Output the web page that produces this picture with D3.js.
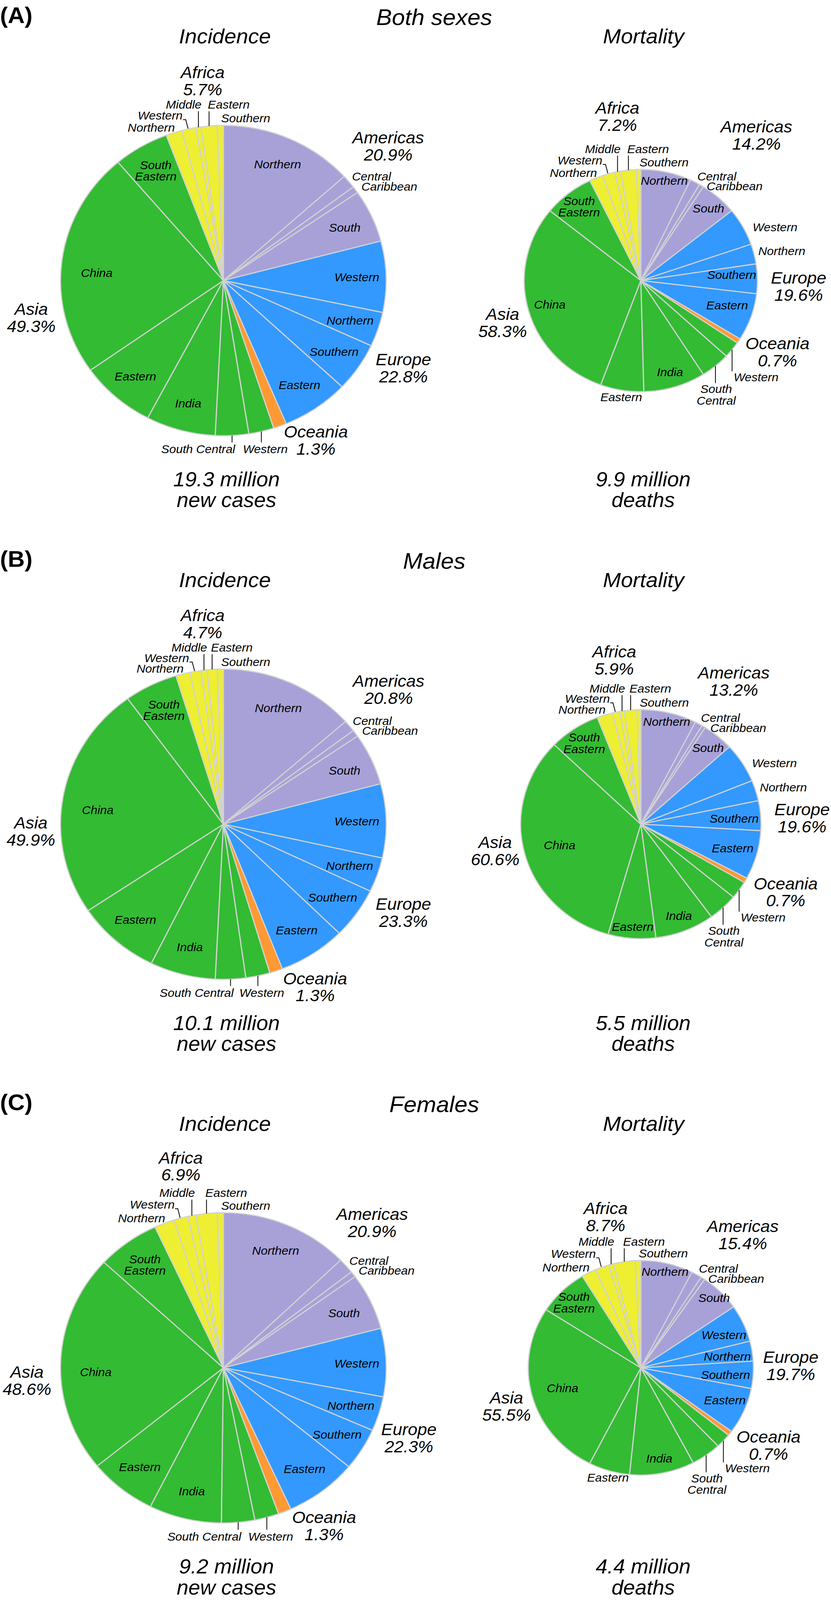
<!DOCTYPE html>
<html>
<head>
<meta charset="utf-8">
<script src="https://cdn.jsdelivr.net/npm/d3@7"></script>
<style>
  html, body { margin: 0; padding: 0; background: #fff; overflow: hidden; }
  svg { display: block; }
  text { font-family: "Liberation Sans", Arial, Helvetica, sans-serif; font-style: italic; fill: #000; }
</style>
</head>
<body>
<div id="fig"></div>
<script>
// ---- data (percent of world total) ----
const SUB_REGION = ["Americas", "Americas", "Americas", "Americas",
  "Europe", "Europe", "Europe", "Europe", "Oceania",
  "Asia", "Asia", "Asia", "Asia", "Asia", "Asia",
  "Africa", "Africa", "Africa", "Africa", "Africa"];
const SUB_NAME = ["Northern", "Central", "Caribbean", "South",
  "Western", "Northern", "Southern", "Eastern", "",
  "Western", "South Central", "India", "Eastern", "China", "South Eastern",
  "Northern", "Western", "Middle", "Eastern", "Southern"];

const BOTH_INC    = [13.3, 1.4, 0.7, 5.5,  7.4, 3.6, 5.1, 6.7,  1.3,  2.5, 3.3, 6.9, 7.5, 23.6, 5.5,  1.6, 1.4, 0.5, 1.6, 0.6];
const BOTH_MORT   = [7.0, 1.4, 0.6, 5.2,   5.5, 2.9, 4.3, 6.9,  0.7,  2.4, 4.1, 8.6, 6.0, 30.2, 7.0,  1.9, 1.7, 0.8, 2.2, 0.6];
const MALE_INC    = [13.5, 1.2, 0.7, 5.4,  7.7, 3.6, 5.3, 6.7,  1.3,  2.4, 3.0, 6.5, 8.3, 24.4, 5.3,  1.4, 1.1, 0.6, 1.0, 0.6];
const MALE_MORT   = [7.5, 1.0, 0.5, 4.2,   5.6, 2.9, 4.2, 6.9,  0.7,  2.5, 4.0, 8.0, 6.4, 32.8, 6.9,  2.1, 1.0, 0.6, 1.7, 0.5];
const FEMALE_INC  = [12.8, 1.6, 0.6, 5.9,  7.1, 3.6, 4.4, 7.2,  1.3,  2.4, 3.3, 7.2, 6.7, 22.8, 6.2,  2.0, 1.4, 0.8, 2.1, 0.6];
const FEMALE_MORT = [7.5, 1.5, 0.6, 5.8,   5.6, 3.0, 4.1, 7.0,  0.7,  2.2, 4.3, 9.3, 5.9, 26.6, 7.2,  2.1, 2.0, 0.7, 3.1, 0.8];

const REGION_NAMES = ["Africa", "Americas", "Europe", "Oceania", "Asia"];
const BOTH_INC_PCT    = [5.7, 20.9, 22.8, 1.3, 49.3];
const BOTH_MORT_PCT   = [7.2, 14.2, 19.6, 0.7, 58.3];
const MALE_INC_PCT    = [4.7, 20.8, 23.3, 1.3, 49.9];
const MALE_MORT_PCT   = [5.9, 13.2, 19.6, 0.7, 60.6];
const FEMALE_INC_PCT  = [6.9, 20.9, 22.3, 1.3, 48.6];
const FEMALE_MORT_PCT = [8.7, 15.4, 19.7, 0.7, 55.5];

const PANEL_TAGS = ["(A)", "(B)", "(C)"];
const PANEL_TITLES = ["Both sexes", "Males", "Females"];
const INC_TOTAL = [19.3, 10.1, 9.2];   // million new cases
const MORT_TOTAL = [9.9, 5.5, 4.4];    // million deaths

// ---- layout ----
const W = 2128, H = 4300;
const STEP = 1461;
const CX_INC = 572, CX_MORT = 1641, CY = 754, R_INC = 417;
const SUB_FS = 31, SUB_LH = 31, REG_FS = 44, REG_LH = 46;

const COLORS = { Americas: "#a7a1d8", Europe: "#3399ff", Oceania: "#ff9933", Asia: "#33bb33", Africa: "#eeee33" };

// region label anchor (centre x, first baseline) relative to the pie centre
const REGION_LABEL_POS = [
  { inc: [[-53, -544], [422, -369], [461, 228], [237, 422], [-492, 92]],
    mort: [[-60, -448], [296, -398], [404, 8], [350, 185], [-354, 106]] },
  { inc: [[-53, -546], [423, -369], [461, 230], [235, 430], [-493, 12]],
    mort: [[-68, -448], [238, -391], [413, -24], [371, 175], [-373, 64]] },
  { inc: [[-109, -549], [381, -397], [475, 181], [258, 417], [-503, 27]],
    mort: [[-90, -413], [261, -365], [384, -13], [327, 201], [-344, 96]] }
];

const AFRICA_SPEC = {
  "Africa|Northern": { mode: "afN" },
  "Africa|Western": { mode: "afW" },
  "Africa|Middle": { mode: "afM" },
  "Africa|Eastern": { mode: "afE" },
  "Africa|Southern": { mode: "afS" }
};

const INC_SPEC = Object.assign({
  "Americas|Northern": { mode: "in" },
  "Americas|Central": { mode: "out", dx: 2, dy: 2 },
  "Americas|Caribbean": { mode: "carib" },
  "Americas|South": { mode: "in" },
  "Europe|Western": { mode: "in" },
  "Europe|Northern": { mode: "in" },
  "Europe|Southern": { mode: "in" },
  "Europe|Eastern": { mode: "in" },
  "Asia|Western": { mode: "leadInc", anchor: "middle", dx: 10 },
  "Asia|South Central": { mode: "leadInc", anchor: "end", dx: 8 },
  "Asia|India": { mode: "in" },
  "Asia|Eastern": { mode: "in" },
  "Asia|China": { mode: "in", dx: 15, dy: 22 },
  "Asia|South Eastern": { mode: "in", split: true }
}, AFRICA_SPEC);

const MORT_SPEC = Object.assign({
  "Americas|Northern": { mode: "in", k: 0.92 },
  "Americas|Central": { mode: "out", dx: 2, dy: 2 },
  "Americas|Caribbean": { mode: "carib" },
  "Americas|South": { mode: "in", k: 0.87 },
  "Europe|Western": { mode: "out", dx: 18, dy: 16 },
  "Europe|Northern": { mode: "out", dx: 3, dy: 5 },
  "Europe|Southern": { mode: "rim" },
  "Europe|Eastern": { mode: "rim" },
  "Asia|Western": { mode: "leadMort", len: 58, anchor: "start", dx: 4 },
  "Asia|South Central": { mode: "leadMort", len: 46, anchor: "middle", dx: 2, split: true },
  "Asia|India": { mode: "in", k: 0.86 },
  "Asia|Eastern": { mode: "below" },
  "Asia|China": { mode: "in", k: 0.81 },
  "Asia|South Eastern": { mode: "in", k: 0.85, split: true }
}, AFRICA_SPEC);

const MORT_TWEAKS = [
  { "Europe|Southern": { dx: 5, dy: -11 }, "Europe|Eastern": { dy: -29 } },
  { "Europe|Southern": { dx: 3, dy: 8 }, "Europe|Eastern": { dy: -16 },
    "Asia|Eastern": { mode: "in", k: 0.9 }, "Asia|China": { k: 0.7 } },
  { "Europe|Western": { mode: "rim", dx: 15, dy: 28 }, "Europe|Northern": { mode: "rim", dx: 5, dy: 13 },
    "Europe|Eastern": { dx: 12, dy: -26 }, "Americas|South": { k: 0.92 }, "Asia|China": { k: 0.72 } }
];

// the drawing is laid out on a 2128 x 4300 grid and stretched to whatever the window shows
const svg = d3.select("#fig").append("svg")
  .attr("viewBox", `0 0 ${W} ${H}`)
  .attr("preserveAspectRatio", "none")
  .style("width", "100vw")
  .style("height", "100vh");

function addText(g, x, y, lines, anchor, size, lh, center) {
  const y0 = center ? y + 0.35 * size - (lines.length - 1) * lh / 2 : y;
  const t = g.append("text").attr("text-anchor", anchor).attr("font-size", size);
  lines.forEach((s, i) => t.append("tspan").attr("x", x).attr("y", y0 + i * lh).text(s));
  return t;
}

function leader(g, pts) {
  g.append("path").attr("d", d3.line()(pts)).attr("fill", "none")
    .attr("stroke", "#000").attr("stroke-width", 2);
}

function drawPie(g, values, r, spec, kind) {
  const rows = SUB_NAME.map((name, j) => ({ region: SUB_REGION[j], name, value: values[j] }));
  const arcs = d3.pie().sort(null).value(d => d.value)(rows);
  const arc = d3.arc().innerRadius(0).outerRadius(r);

  g.selectAll("path.slice").data(arcs).enter().append("path")
    .attr("class", "slice")
    .attr("d", arc)
    .attr("fill", d => COLORS[d.data.region])
    .attr("stroke", "#d2d2d2")
    .attr("stroke-width", 3)
    .attr("stroke-linejoin", "round");

  const at = (a, R) => [Math.sin(a) * R, -Math.cos(a) * R];
  const kDefault = kind === "inc" ? 0.82 : 0.84;
  let centralPos = null, middleBase = null;

  arcs.forEach(d => {
    const key = d.data.region + "|" + d.data.name;
    const s = spec[key];
    if (!s) return;
    const mid = (d.startAngle + d.endAngle) / 2;
    const dx = s.dx || 0, dy = s.dy || 0;
    const lines = s.split ? d.data.name.split(" ") : [d.data.name];
    const rim = at(mid, r);
    let p;
    switch (s.mode) {
      case "in":
        p = at(mid, r * (s.k || kDefault));
        addText(g, p[0] + dx, p[1] + dy, lines, "middle", SUB_FS, SUB_LH, true);
        break;
      case "rim":
        p = at(mid, r - 8);
        addText(g, p[0] + dx, p[1] + dy, lines, "end", SUB_FS, SUB_LH, true);
        break;
      case "out":
        p = at(mid, r + 8);
        addText(g, p[0] + dx, p[1] + dy, lines, "start", SUB_FS, SUB_LH, false);
        if (key === "Americas|Central") centralPos = [p[0] + dx, p[1] + dy];
        break;
      case "carib":
        addText(g, centralPos[0] + 24, centralPos[1] + 27, lines, "start", SUB_FS, SUB_LH, false);
        break;
      case "below":
        p = at(mid, r + 10);
        addText(g, p[0] + dx, p[1] + 20 + dy, lines, "middle", SUB_FS, SUB_LH, false);
        break;
      case "leadInc":
        leader(g, [rim, [rim[0], r + 18]]);
        addText(g, rim[0] + dx, r + 47, lines, s.anchor, SUB_FS, SUB_LH, false);
        break;
      case "leadMort":
        leader(g, [rim, [rim[0], rim[1] + s.len]]);
        addText(g, rim[0] + dx, rim[1] + s.len + 27, lines, s.anchor, SUB_FS, SUB_LH, false);
        break;
      case "afN":
        addText(g, rim[0] + 2, rim[1] - 3, lines, "end", SUB_FS, SUB_LH, false);
        break;
      case "afW":
        leader(g, [[rim[0] - 15, rim[1] - 25], [rim[0] - 8, rim[1] - 25], [rim[0] - 2, rim[1] - 1]]);
        addText(g, rim[0] - 16, rim[1] - 25, lines, "end", SUB_FS, SUB_LH, false);
        break;
      case "afM":
        middleBase = rim[1] - 50;
        leader(g, [rim, [rim[0], middleBase + 7]]);
        addText(g, rim[0] + 8, middleBase, lines, "end", SUB_FS, SUB_LH, false);
        break;
      case "afE":
        leader(g, [rim, [rim[0], middleBase + 7]]);
        addText(g, rim[0] - 3, middleBase, lines, "start", SUB_FS, SUB_LH, false);
        break;
      case "afS":
        addText(g, rim[0] + 2, rim[1] - 8, lines, "start", SUB_FS, SUB_LH, false);
        break;
    }
  });
}

function drawRegionLabels(g, pcts, pos) {
  REGION_NAMES.forEach((name, k) => {
    addText(g, pos[k][0], pos[k][1], [name, pcts[k].toFixed(1) + "%"], "middle", REG_FS, REG_LH, false);
  });
}

const panels = [
  { inc: BOTH_INC, mort: BOTH_MORT, incPct: BOTH_INC_PCT, mortPct: BOTH_MORT_PCT },
  { inc: MALE_INC, mort: MALE_MORT, incPct: MALE_INC_PCT, mortPct: MALE_MORT_PCT },
  { inc: FEMALE_INC, mort: FEMALE_MORT, incPct: FEMALE_INC_PCT, mortPct: FEMALE_MORT_PCT }
];

panels.forEach((pn, i) => {
  const off = i * STEP;
  const panel = svg.append("g").attr("transform", `translate(0, ${off})`);

  panel.append("text").attr("x", 0).attr("y", 62).attr("font-size", 60)
    .style("font-style", "normal").attr("font-weight", "bold").text(PANEL_TAGS[i]);
  panel.append("text").attr("x", 1112).attr("y", 67).attr("font-size", 60)
    .attr("text-anchor", "middle").text(PANEL_TITLES[i]);
  panel.append("text").attr("x", 576).attr("y", 117).attr("font-size", 55)
    .attr("text-anchor", "middle").text("Incidence");
  panel.append("text").attr("x", 1648).attr("y", 117).attr("font-size", 55)
    .attr("text-anchor", "middle").text("Mortality");

  // pie area proportional to the count within the panel
  const rScale = d3.scaleSqrt().domain([0, INC_TOTAL[i]]).range([0, R_INC]);

  const gi = panel.append("g").attr("transform", `translate(${CX_INC}, ${CY})`);
  drawPie(gi, pn.inc, rScale(INC_TOTAL[i]), INC_SPEC, "inc");
  drawRegionLabels(gi, pn.incPct, REGION_LABEL_POS[i].inc);

  const mortSpec = {};
  Object.keys(MORT_SPEC).forEach(k => {
    mortSpec[k] = Object.assign({}, MORT_SPEC[k], MORT_TWEAKS[i][k] || {});
  });
  const gm = panel.append("g").attr("transform", `translate(${CX_MORT}, ${CY})`);
  drawPie(gm, pn.mort, rScale(MORT_TOTAL[i]), mortSpec, "mort");
  drawRegionLabels(gm, pn.mortPct, REGION_LABEL_POS[i].mort);

  addText(panel, 580, 1307, [INC_TOTAL[i].toFixed(1) + " million", "new cases"], "middle", 54, 56, false);
  addText(panel, 1647, 1307, [MORT_TOTAL[i].toFixed(1) + " million", "deaths"], "middle", 54, 56, false);
});
</script>
</body>
</html>
